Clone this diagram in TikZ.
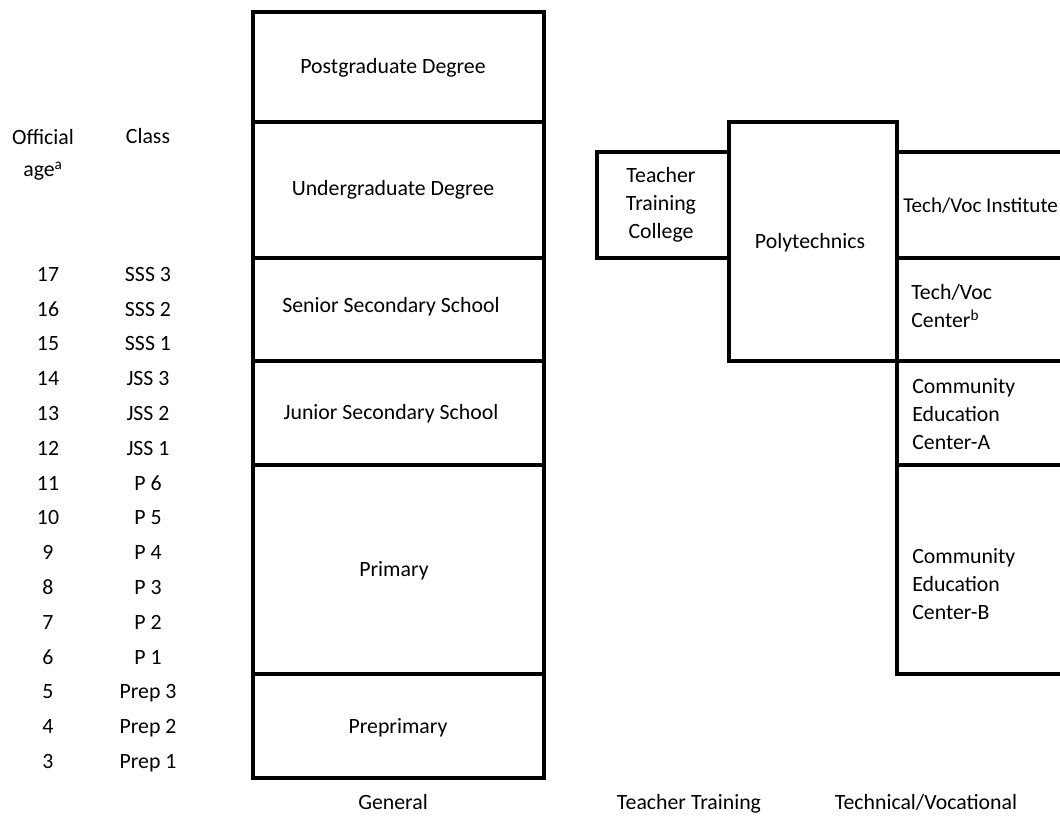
\documentclass[tikz,border=0pt]{standalone}
\usepackage{fontspec}
\setmainfont{Carlito}
\usepackage{tikz}
\usetikzlibrary{positioning, fit}

\tikzset{
    block/.style={draw=black, line width=2.2pt, inner sep=0pt, outer sep=0pt},
    lbl/.style={font=\fontsize{15.5}{20}\selectfont, inner sep=0pt, align=center},
    row/.style={lbl, text height=2.0ex, text depth=0.1ex},
    lblleft/.style={lbl, align=left, anchor=west}
}

\begin{document}
\begin{tikzpicture}[x=0.025cm, y=-0.025cm]
    \useasboundingbox (0,0) rectangle (1060,816);

    % general column
    \foreach \name/\ya/\yb in {
        pg/12/122,
        ug/122/258,
        sss/258/361,
        jss/361/465,
        prim/465/674,
        prep/674/778}{
        \node[block, fit={(253,\ya) (544,\yb)}] (\name) {};
    }

    % teacher training and polytechnics
    \node[block, fit={(597,152) (729,258)}] (ttc) {};
    \node[block, fit={(729,122) (897,361)}] (poly) {};

    % technical/vocational column, cut at the right edge
    \foreach \name/\ya/\yb in {
        tvi/152/258,
        tvc/258/361,
        ceca/361/465,
        cecb/465/674}{
        \node[block, fit={(897,\ya) (1080,\yb)}] (\name) {};
    }

    % box labels
    \node[row] (pgtext) at (393,67) {Postgraduate Degree};
    \node[row] (ugtext) at (393,189) {Undergraduate Degree};
    \node[row] (ssstext) at (391,306) {Senior Secondary School};
    \node[row] (jsstext) at (391,413) {Junior Secondary School};
    \node[row] (primtext) at (394,570) {Primary};
    \node[row] (preptext) at (398,727) {Preprimary};
    \node[lbl] (ttctext) at (661,205) {Teacher\\Training\\College};
    \node[row] (polytext) at (810,242) {Polytechnics};
    \node[lblleft, font=\fontsize{15}{20}\selectfont] (tvitext) at (903,206) {Tech/Voc Institute};
    \node[lblleft] (tvctext) at (911,306) {Tech/Voc\\Center\textsuperscript{b}};
    \node[lblleft] (cecatext) at (912,414) {Community\\Education\\Center-A};
    \node[lblleft] (cecbtext) at (912,584) {Community\\Education\\Center-B};

    % headings
    \node[lbl, font=\fontsize{15.5}{23}\selectfont] (agehead) at (43,155) {Official\\age\textsuperscript{a}};
    \node[row] (classhead) at (148,137) {Class};

    % ages and classes
    \foreach \a/\c [count=\i from 0] in {
        17/SSS 3, 16/SSS 2, 15/SSS 1,
        14/JSS 3, 13/JSS 2, 12/JSS 1,
        11/P 6, 10/P 5, 9/P 4, 8/P 3, 7/P 2, 6/P 1,
        5/Prep 3, 4/Prep 2, 3/Prep 1}{
        \node[row] (age\i) at (48,275+34.8*\i) {\a};
        \node[row] (class\i) at (148,275+34.8*\i) {\c};
    }

    % column captions
    \node[row] (general) at (393,803) {General};
    \node[row] (teacher) at (689,803) {Teacher Training};
    \node[row] (techvoc) at (926,803) {Technical/Vocational};
\end{tikzpicture}
\end{document}
